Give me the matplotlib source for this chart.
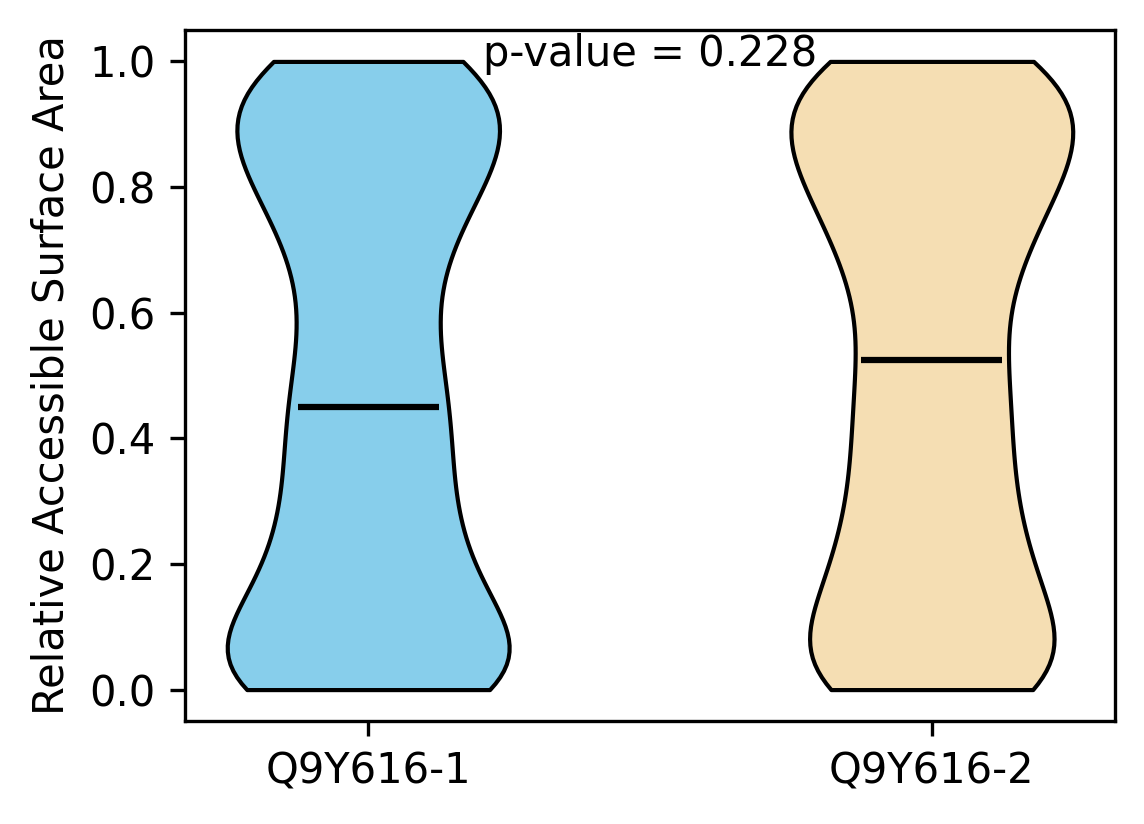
import matplotlib
matplotlib.use("Agg")
import numpy as np
import matplotlib.pyplot as plt

labels = ["Q9Y616-1", "Q9Y616-2"]
colors = ["skyblue", "wheat"]
p_value = 0.228

# RSA values binned at 0.05 steps, with residue counts per bin
rsa_levels = [0.0, 0.05, 0.1, 0.15, 0.2, 0.25, 0.3, 0.35, 0.4, 0.45, 0.5,
              0.55, 0.6, 0.65, 0.7, 0.75, 0.8, 0.85, 0.9, 0.95, 1.0]
counts_1 = [38, 22, 18, 15, 13, 12, 11, 11, 11, 12, 10,
            9, 8, 9, 10, 13, 15, 19, 20, 20, 22]
counts_2 = [32, 18, 17, 16, 14, 12, 12, 11, 11, 11, 12,
            9, 9, 12, 13, 15, 18, 21, 22, 21, 26]

rsa_1 = np.repeat(rsa_levels, counts_1)
rsa_2 = np.repeat(rsa_levels, counts_2)

fig = plt.figure(figsize=(1144 / 300, 824 / 300), dpi=300)
ax = fig.add_axes([185 / 1144, 1 - 721 / 824, 930 / 1144, 691 / 824])

parts = ax.violinplot([rsa_1, rsa_2], showmedians=True, showextrema=False,
                      bw_method=0.25)
for body, c in zip(parts["bodies"], colors):
    body.set_facecolor(c)
    body.set_edgecolor("black")
    body.set_alpha(1)
parts["cmedians"].set_color("black")
parts["cmedians"].set_linewidth(1.5)

ax.set_xticks([1, 2])
ax.set_xticklabels(labels)
ax.set_ylabel("Relative Accessible Surface Area")
ax.text(1.5, 0.978, f"p-value = {p_value}", ha="center", va="bottom")

fig.savefig("out.png", dpi=300)
